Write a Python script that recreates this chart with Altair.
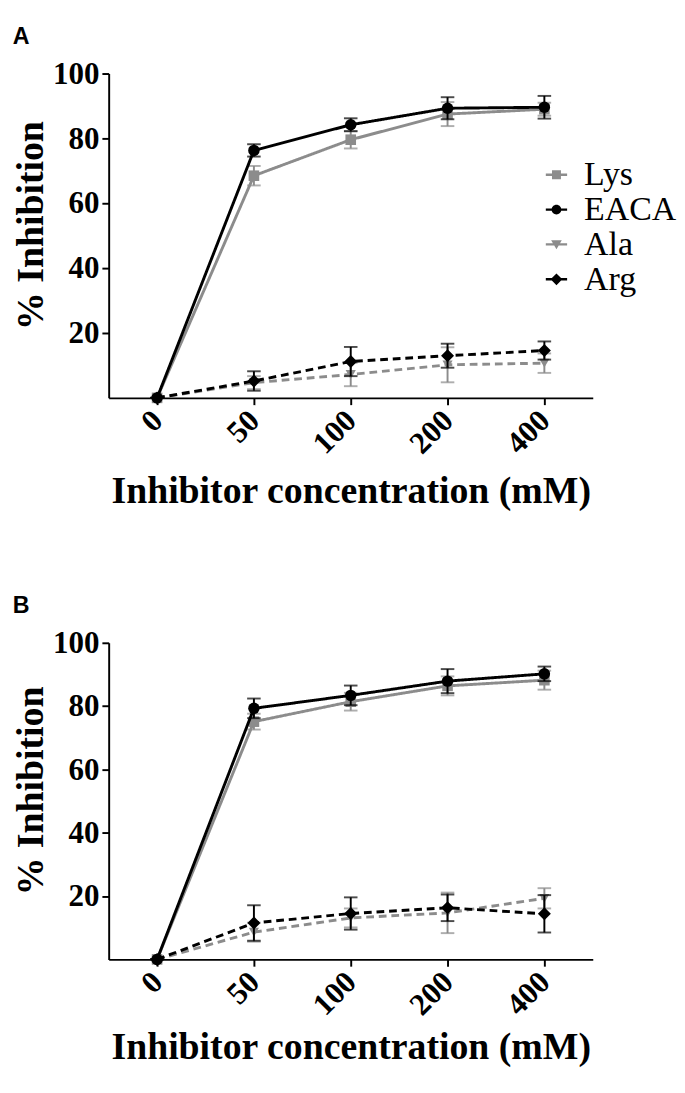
import altair as alt
import pandas as pd

conc = ["0", "50", "100", "200", "400"]
series = ["Lys", "EACA", "Ala", "Arg"]
colors = ["#8c8c8c", "#000000", "#8c8c8c", "#000000"]

# Panel A
lys_a = [0, 68.5, 79.6, 87.5, 89.0]
lys_a_err = [0, 3.0, 2.7, 3.7, 2.0]
eaca_a = [0, 76.3, 84.2, 89.3, 89.6]
eaca_a_err = [0, 1.9, 2.0, 3.4, 3.5]
ala_a = [0, 4.7, 7.2, 10.2, 10.7]
ala_a_err = [0, 2.0, 3.6, 5.4, 3.0]
arg_a = [0, 5.2, 11.2, 13.0, 14.6]
arg_a_err = [0, 3.0, 4.5, 3.7, 2.8]

# Panel B
lys_b = [0, 75.1, 81.4, 86.4, 88.2]
lys_b_err = [0, 2.5, 2.8, 3.0, 3.0]
eaca_b = [0, 79.3, 83.4, 87.9, 90.2]
eaca_b_err = [0, 3.1, 3.1, 3.8, 2.3]
ala_b = [0, 8.6, 13.1, 14.7, 19.3]
ala_b_err = [0, 3.0, 3.0, 6.4, 3.2]
arg_b = [0, 11.5, 14.5, 16.3, 14.4]
arg_b_err = [0, 5.6, 5.1, 4.2, 5.9]

y_ticks = [20, 40, 60, 80, 100]

# legend symbols: line segment plus marker
bar = "M-1,-0.11H1V0.11H-1Z "
legend_paths = [
    bar + "M-0.42,-0.42H0.42V0.42H-0.42Z",
    bar + "M-0.46,0A0.46,0.46 0 1,1 0.46,0A0.46,0.46 0 1,1 -0.46,0Z",
    bar + "M-0.5,-0.4L0.5,-0.4L0,0.45Z",
    bar + "M0,-0.55L0.55,0L0,0.55L-0.55,0Z",
]

styles = {
    "Lys": dict(color="#8c8c8c", dash=[1, 0], shape="square", size=120),
    "EACA": dict(color="#000000", dash=[1, 0], shape="circle", size=140),
    "Ala": dict(color="#8c8c8c", dash=[8, 5], shape="triangle-down", size=110),
    "Arg": dict(color="#000000", dash=[8, 5], shape="diamond", size=180),
}
draw_order = ["Ala", "Lys", "Arg", "EACA"]


def make_df(vals, errs):
    rows = []
    for s in series:
        for c, v, e in zip(conc, vals[s], errs[s]):
            rows.append({"series": s, "conc": c, "mean": v, "lo": v - e, "hi": v + e})
    return pd.DataFrame(rows)


def panel(letter, vals, errs, height, lx, ly, row_pad, x_title_pad):
    df = make_df(vals, errs)
    x = alt.X(
        "conc:O",
        scale=alt.Scale(type="point", domain=conc, padding=0.5),
        axis=alt.Axis(
            title="Inhibitor concentration (mM)",
            labelAngle=-45,
            labelAlign="right",
            labelBaseline="middle",
            labelPadding=11,
            titlePadding=x_title_pad,
        ),
    )
    yscale = alt.Scale(domain=[0, 100], nice=False)
    yaxis = alt.Axis(
        title="% Inhibition",
        values=y_ticks,
        titlePadding=2,
        labelPadding=3,
        titleY=height / 2 - 11,
    )
    layers = []
    for s in draw_order:
        st = styles[s]
        b = alt.Chart(df).transform_filter(alt.datum.series == s)
        layers.append(
            b.mark_rule(color=st["color"], strokeWidth=2).encode(
                x=x, y=alt.Y("lo:Q", scale=yscale, axis=yaxis), y2="hi:Q"
            )
        )
        for f in ["lo", "hi"]:
            layers.append(
                b.mark_tick(color=st["color"], orient="horizontal", size=14, thickness=2).encode(
                    x=x, y=alt.Y(f + ":Q", scale=yscale, axis=yaxis)
                )
            )
        layers.append(
            b.mark_line(color=st["color"], strokeWidth=3, strokeDash=st["dash"]).encode(
                x=x, y=alt.Y("mean:Q", scale=yscale, axis=yaxis)
            )
        )
        layers.append(
            b.mark_point(
                color=st["color"], filled=True, opacity=1, shape=st["shape"], size=st["size"]
            ).encode(x=x, y=alt.Y("mean:Q", scale=yscale, axis=yaxis))
        )
    leg = alt.Legend(
        title=None,
        orient="none",
        legendX=lx,
        legendY=ly,
        labelFont="Liberation Serif",
        labelFontSize=35,
        labelFontWeight="normal",
        labelColor="black",
        labelOffset=11,
        symbolSize=484,
        symbolStrokeWidth=0,
        rowPadding=row_pad,
        padding=0,
    )
    helper = (
        alt.Chart(df)
        .transform_filter("false")
        .mark_point(filled=True, opacity=1)
        .encode(
            x=x,
            y=alt.Y("mean:Q", scale=yscale, axis=yaxis),
            color=alt.Color("series:N", scale=alt.Scale(domain=series, range=colors), legend=leg),
            shape=alt.Shape("series:N", scale=alt.Scale(domain=series, range=legend_paths), legend=leg),
        )
    )
    layers.append(helper)
    return alt.layer(*layers).properties(
        width=500,
        height=height,
        title=alt.TitleParams(
            letter,
            anchor="start",
            font="Liberation Sans",
            fontSize=24,
            fontWeight="bold",
            color="black",
            offset=10,
        ),
    )


pa = panel(
    "A",
    {"Lys": lys_a, "EACA": eaca_a, "Ala": ala_a, "Arg": arg_a},
    {"Lys": lys_a_err, "EACA": eaca_a_err, "Ala": ala_a_err, "Arg": arg_a_err},
    335, 445, 87, -2, 14,
)
pb = panel(
    "B",
    {"Lys": lys_b, "EACA": eaca_b, "Ala": ala_b, "Arg": arg_b},
    {"Lys": lys_b_err, "EACA": eaca_b_err, "Ala": ala_b_err, "Arg": arg_b_err},
    327, 436, 81, -5, 8,
)

chart = (
    alt.vconcat(pa, pb, spacing=86)
    .properties(padding={"left": 5, "top": 0, "right": 0, "bottom": 0}, background="white")
    .configure_view(stroke=None)
    .configure_axis(
        grid=False,
        domainColor="black",
        domainWidth=2,
        tickColor="black",
        tickWidth=2,
        tickSize=7,
        labelFont="Liberation Serif",
        labelFontWeight="bold",
        labelFontSize=32,
        labelColor="black",
        titleFont="Liberation Serif",
        titleFontWeight="bold",
        titleFontSize=39,
        titleColor="black",
    )
)

chart.save("out.html", embed_options={"renderer": "svg", "actions": False})
